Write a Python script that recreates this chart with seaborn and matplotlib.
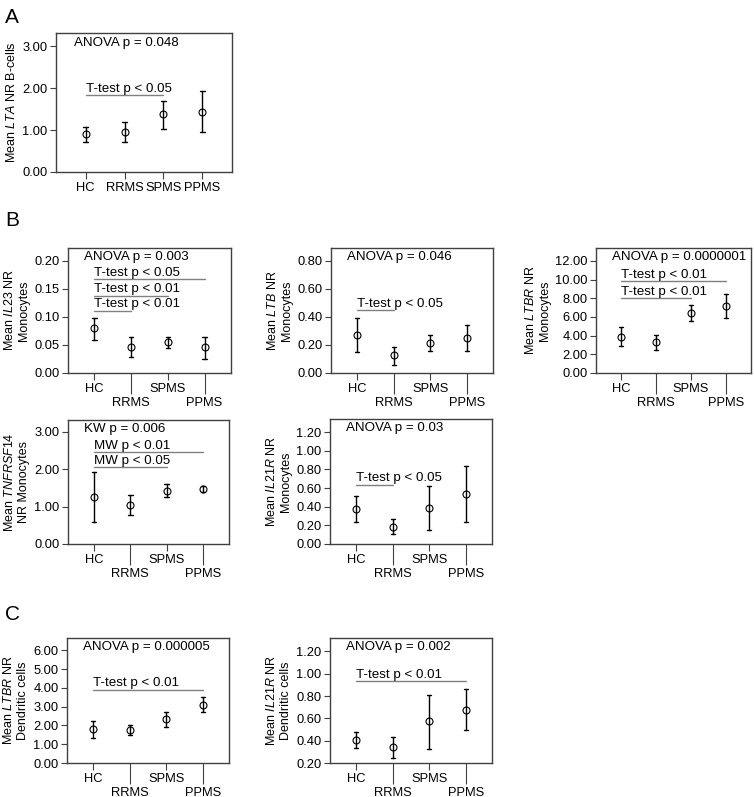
import matplotlib
matplotlib.use("Agg")
import matplotlib.pyplot as plt
from matplotlib.ticker import FormatStrFormatter
import seaborn as sns
import pandas as pd

GROUPS = ["HC", "RRMS", "SPMS", "PPMS"]

# A: LTA NR in B-cells
lta_b_mean = [0.91, 0.95, 1.37, 1.44]
lta_b_low = [0.72, 0.71, 1.03, 0.95]
lta_b_high = [1.07, 1.19, 1.69, 1.93]

# B: monocytes
il23_mean = [0.080, 0.046, 0.055, 0.046]
il23_low = [0.059, 0.028, 0.044, 0.025]
il23_high = [0.099, 0.065, 0.065, 0.065]

ltb_mean = [0.272, 0.125, 0.213, 0.25]
ltb_low = [0.15, 0.06, 0.156, 0.16]
ltb_high = [0.39, 0.185, 0.27, 0.34]

ltbr_mo_mean = [3.9, 3.27, 6.42, 7.17]
ltbr_mo_low = [2.9, 2.48, 5.57, 5.86]
ltbr_mo_high = [4.9, 4.05, 7.24, 8.41]

tnfrsf14_mean = [1.27, 1.05, 1.43, 1.47]
tnfrsf14_low = [0.60, 0.77, 1.25, 1.38]
tnfrsf14_high = [1.92, 1.32, 1.60, 1.56]

il21r_mo_mean = [0.371, 0.182, 0.389, 0.536]
il21r_mo_low = [0.232, 0.104, 0.154, 0.239]
il21r_mo_high = [0.51, 0.268, 0.618, 0.832]

# C: dendritic cells
ltbr_dc_mean = [1.81, 1.74, 2.34, 3.11]
ltbr_dc_low = [1.33, 1.47, 1.92, 2.70]
ltbr_dc_high = [2.24, 2.02, 2.73, 3.51]

il21r_dc_mean = [0.406, 0.34, 0.573, 0.678]
il21r_dc_low = [0.334, 0.245, 0.328, 0.50]
il21r_dc_high = [0.475, 0.43, 0.812, 0.863]

W, H = 754, 797


def rect(left, right, top, bottom):
    return [left / W, 1 - bottom / H, (right - left) / W, (bottom - top) / H]


PANELS = [
    dict(box=rect(56, 232, 33, 172), data=(lta_b_mean, lta_b_low, lta_b_high),
         ylabel="Mean $\\it{LTA}$ NR B-cells", yticks=[0, 1, 2, 3], ylim=(0, 3.31),
         head="ANOVA p = 0.048", comps=[("T-test p < 0.05", 2, 1.83)],
         stagger=False, xpad=0.76),
    dict(box=rect(68, 231, 248, 373), data=(il23_mean, il23_low, il23_high),
         ylabel="Mean $\\it{IL23}$ NR\nMonocytes", yticks=[0, 0.05, 0.1, 0.15, 0.2],
         ylim=(0, 0.223), head="ANOVA p = 0.003",
         comps=[("T-test p < 0.05", 3, 0.167), ("T-test p < 0.01", 2, 0.138),
                ("T-test p < 0.01", 1, 0.111)]),
    dict(box=rect(331, 493, 248, 373), data=(ltb_mean, ltb_low, ltb_high),
         ylabel="Mean $\\it{LTB}$ NR\nMonocytes", yticks=[0, 0.2, 0.4, 0.6, 0.8],
         ylim=(0, 0.89), head="ANOVA p = 0.046",
         comps=[("T-test p < 0.05", 1, 0.445)]),
    dict(box=rect(596, 751, 248, 373), data=(ltbr_mo_mean, ltbr_mo_low, ltbr_mo_high),
         ylabel="Mean $\\it{LTBR}$ NR\nMonocytes", yticks=[0, 2, 4, 6, 8, 10, 12],
         ylim=(0, 13.38), head="ANOVA p = 0.0000001",
         comps=[("T-test p < 0.01", 3, 9.83), ("T-test p < 0.01", 2, 7.99)]),
    dict(box=rect(68, 229, 420, 544), data=(tnfrsf14_mean, tnfrsf14_low, tnfrsf14_high),
         ylabel="Mean $\\it{TNFRSF14}$\nNR Monocytes", yticks=[0, 1, 2, 3],
         ylim=(0, 3.32), head="KW p = 0.006",
         comps=[("MW p < 0.01", 3, 2.45), ("MW p < 0.05", 2, 2.06)]),
    dict(box=rect(330, 492, 419, 544), data=(il21r_mo_mean, il21r_mo_low, il21r_mo_high),
         ylabel="Mean $\\it{IL21R}$ NR\nMonocytes", yticks=[0, 0.2, 0.4, 0.6, 0.8, 1.0, 1.2],
         ylim=(0, 1.34), head="ANOVA p = 0.03",
         comps=[("T-test p < 0.05", 1, 0.636)]),
    dict(box=rect(67, 229, 638, 763), data=(ltbr_dc_mean, ltbr_dc_low, ltbr_dc_high),
         ylabel="Mean $\\it{LTBR}$ NR\nDendritic cells", yticks=[0, 1, 2, 3, 4, 5, 6],
         ylim=(0, 6.66), head="ANOVA p = 0.000005",
         comps=[("T-test p < 0.01", 3, 3.91)]),
    dict(box=rect(330, 492, 638, 763), data=(il21r_dc_mean, il21r_dc_low, il21r_dc_high),
         ylabel="Mean $\\it{IL21R}$ NR\nDendritic cells", yticks=[0.2, 0.4, 0.6, 0.8, 1.0, 1.2],
         ylim=(0.2, 1.32), head="ANOVA p = 0.002",
         comps=[("T-test p < 0.01", 3, 0.931)]),
]

sns.set_style("ticks")
plt.rcParams.update({
    "font.family": ["Liberation Sans", "DejaVu Sans"],
    "font.size": 9,
    "text.color": "black",
    "axes.labelcolor": "black",
    "mathtext.fontset": "custom",
    "mathtext.rm": "Liberation Sans",
    "mathtext.it": "Liberation Sans:italic",
    "axes.edgecolor": "#404040",
    "axes.linewidth": 1.0,
    "xtick.color": "#404040",
    "ytick.color": "#404040",
    "xtick.labelcolor": "black",
    "ytick.labelcolor": "black",
    "xtick.labelsize": 9.3,
    "ytick.labelsize": 9.3,
    "xtick.major.size": 5,
    "ytick.major.size": 4,
    "xtick.major.pad": 2,
    "ytick.major.pad": 2,
})

fig = plt.figure(figsize=(W / 100, H / 100), dpi=100)

for p in PANELS:
    ax = fig.add_axes(p["box"])
    mean, low, high = p["data"]
    # three rows per group: the median is the mean, min/max are the bar ends
    df = pd.DataFrame({"group": GROUPS * 3, "value": low + mean + high})
    sns.pointplot(
        data=df, x="group", y="value", order=GROUPS,
        estimator="median", errorbar=("pi", 100),
        color="black", markers="o", linestyles="none", capsize=0.12,
        err_kws={"linewidth": 1.0}, markersize=5,
        markerfacecolor="none", markeredgewidth=0.8, ax=ax,
    )
    pad = p.get("xpad", 0.72)
    ax.set_xlim(-pad, 3 + pad)
    ax.set_ylim(*p["ylim"])
    ax.set_yticks(p["yticks"])
    ax.yaxis.set_major_formatter(FormatStrFormatter("%.2f"))
    ax.set_xticks(range(len(GROUPS)))
    stagger = p.get("stagger", True)
    ax.set_xticklabels([
        "\n" + g if (stagger and i % 2) else g for i, g in enumerate(GROUPS)
    ])
    if stagger:
        for i, t in enumerate(ax.xaxis.get_major_ticks()):
            if i % 2:
                t.tick1line.set_markersize(15)
    ax.set_xlabel("")
    ax.set_ylabel(p["ylabel"], labelpad=3)
    for s in ax.spines.values():
        s.set_visible(True)

    ax.text(0.1, 0.93, p["head"], transform=ax.transAxes,
            ha="left", va="center", fontsize=9.6)
    for label, end, y in p["comps"]:
        ax.plot([0, end], [y, y], color="#808080", lw=1)
        ax.annotate(label, xy=(0, y), xytext=(0, 0.3),
                    textcoords="offset points", ha="left", va="bottom",
                    fontsize=9.6)

for letter, ypx in [("A", 8), ("B", 211), ("C", 605)]:
    fig.text(5 / W, 1 - ypx / H, letter, fontsize=15, va="top", ha="left")

fig.savefig("out.png", dpi=100)
